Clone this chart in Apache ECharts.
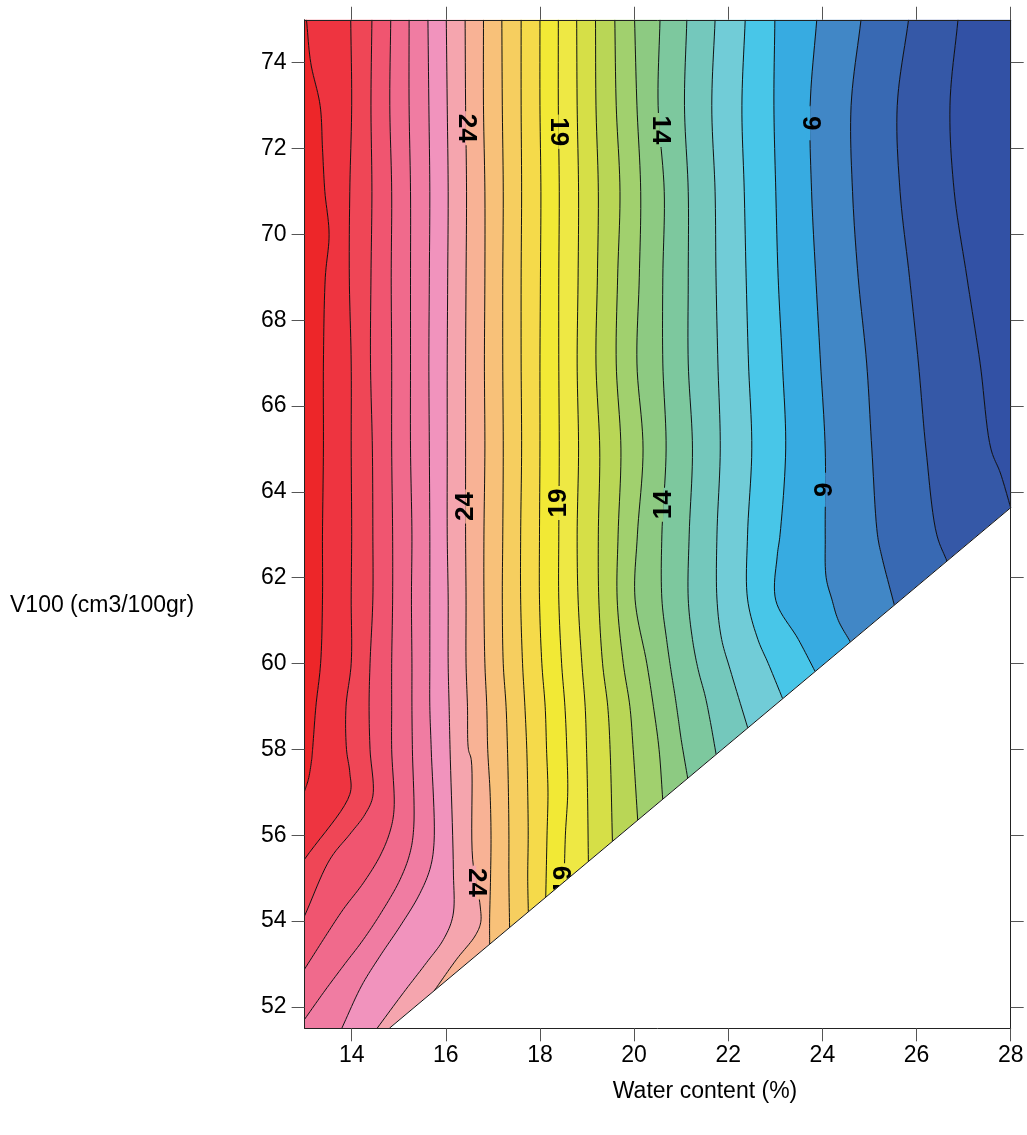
<!DOCTYPE html>
<html>
<head>
<meta charset="utf-8">
<script src="https://cdn.jsdelivr.net/npm/echarts@6/dist/echarts.min.js"></script>
<style>
  html, body { margin: 0; padding: 0; background: #ffffff; }
  #chart { width: 1027px; height: 1135px; }
</style>
</head>
<body>
<div id="chart"></div>
<script>
// Axis extents and tick labels
const xRange = [13, 28];
const yRange = [51.5, 75];
const xTicks = [14, 16, 18, 20, 22, 24, 26, 28];
const yTicks = [52, 54, 56, 58, 60, 62, 64, 66, 68, 70, 72, 74];

const xTitle = 'Water content (%)';
const yTitle = 'V100 (cm3/100gr)';

// Measured domain (clockwise on screen): top-left, top-right, right edge foot, diagonal foot, bottom-left
const domainOutline = [[13, 75], [28, 75], [28, 63.63], [14.8, 51.5], [13, 51.5]];

// Contour levels, highest on the left
const contourLevels = [31, 30, 29, 28, 27, 26, 25, 24, 23, 22, 21, 20, 19, 18, 17, 16, 15, 14, 13, 12, 11, 10, 9, 8, 7, 6];

// Each isoline traced from the top edge down to where it leaves the domain: [water content, V100]
const contourLines = [
  [[13.04,75],[13.13,74],[13.33,73],[13.38,72],[13.43,71],[13.52,70],[13.44,69],[13.40,67],[13.40,65],[13.38,63],[13.38,61.5],[13.34,60],[13.24,59],[13.17,58],[13.15,57.76],[13.08,57.3],[13.0,57.03]],
  [[13.98,75],[14.00,73],[13.96,71],[13.95,69],[13.99,67],[13.99,65],[14.00,63],[13.99,61.5],[13.99,60],[13.88,59],[13.89,58],[13.96,57.46],[13.96,56.95],[13.0,55.44]],
  [[14.43,75],[14.41,73],[14.43,71],[14.41,69],[14.40,67],[14.44,65],[14.45,63],[14.45,61.5],[14.39,60],[14.37,59],[14.39,58],[14.45,56.91],[14.28,56.48],[13.96,56.02],[13.54,55.44],[13.0,54.12]],
  [[14.83,75],[14.81,73],[14.85,71],[14.84,69],[14.85,67],[14.85,65],[14.87,63],[14.87,61.5],[14.85,60],[14.85,59],[14.85,58],[14.90,56.6],[14.81,56.07],[14.60,55.51],[14.25,54.89],[13.82,54.27],[13.40,53.57],[13.0,52.88]],
  [[15.22,75],[15.22,73],[15.25,71],[15.25,69],[15.25,67],[15.25,65],[15.28,63],[15.27,61.5],[15.28,60],[15.28,59],[15.29,58],[15.32,56.21],[15.24,55.59],[15.03,54.97],[14.67,54.27],[14.25,53.57],[13.82,52.95],[13.40,52.33],[13.0,51.71]],
  [[15.62,75],[15.64,73],[15.66,71],[15.65,69],[15.64,67],[15.65,65],[15.66,63],[15.66,61.5],[15.66,60],[15.66,59],[15.69,58],[15.75,55.83],[15.66,55.2],[15.42,54.58],[15.03,53.88],[14.60,53.18],[14.21,52.49],[13.79,51.5]],
  [[16.01,75],[16.03,73],[16.05,71],[16.04,69],[16.03,67],[16.03,65],[16.03,63],[16.05,61.5],[16.05,60],[16.07,59],[16.09,58],[16.16,55.2],[16.15,54.12],[15.95,53.57],[15.59,53.03],[15.10,52.33],[14.54,51.5]],
  [[16.41,75],[16.42,73],[16.44,71],[16.43,69],[16.42,67],[16.42,65],[16.42,63],[16.43,61.5],[16.43,60],[16.46,59],[16.48,58],[16.54,57.76],[16.57,55.44],[16.73,54.35],[16.74,53.96],[16.62,53.65],[16.23,53.11],[15.73,52.41]],
  [[16.80,75],[16.80,73],[16.83,71],[16.83,69],[16.82,67],[16.83,65],[16.81,63],[16.81,61.5],[16.83,60],[16.87,59],[16.89,58],[16.94,57],[16.96,56],[16.95,55],[16.93,54],[16.90,53.5]],
  [[17.19,75],[17.20,73],[17.22,71],[17.21,69],[17.21,67],[17.22,65],[17.21,63],[17.20,61.5],[17.22,60],[17.28,59],[17.31,58],[17.33,57],[17.34,56],[17.34,55],[17.33,53.88]],
  [[17.60,75],[17.60,73],[17.61,71],[17.60,69],[17.60,67],[17.61,65],[17.59,63],[17.59,61.5],[17.63,60],[17.68,59],[17.72,58],[17.74,57],[17.75,56],[17.74,55],[17.74,54.23]],
  [[18.00,75],[18.00,73],[18.02,71],[18.01,69],[18.00,67],[18.00,65],[17.99,63],[17.99,61.5],[18.04,60],[18.11,59],[18.14,58],[18.17,57],[18.15,56],[18.11,54.57]],
  [[18.39,75],[18.39,73],[18.41,71],[18.40,69],[18.40,67],[18.41,65],[18.40,63],[18.40,61.5],[18.46,60],[18.53,59],[18.57,58],[18.59,57],[18.54,56],[18.50,54.93]],
  [[18.78,75],[18.79,73],[18.82,71],[18.81,69],[18.79,67],[18.82,65],[18.79,63],[18.81,61.5],[18.89,60],[18.96,59],[18.99,58],[19.01,57],[19.01,55.41]],
  [[19.18,75],[19.19,73],[19.24,71],[19.22,69],[19.19,67],[19.27,65],[19.24,63],[19.25,61.5],[19.33,60],[19.44,59],[19.49,58],[19.52,55.88]],
  [[19.59,75],[19.62,73],[19.70,71],[19.65,69],[19.62,67],[19.72,65],[19.66,63],[19.64,61.5],[19.77,60],[19.91,59],[19.98,58],[20.06,56.37]],
  [[20.01,75],[20.06,73],[20.14,71],[20.11,69],[20.06,67],[20.19,65],[20.07,63],[20.02,61.5],[20.27,60],[20.41,59],[20.53,58],[20.59,56.86]],
  [[20.55,75],[20.51,73],[20.64,71],[20.61,69],[20.61,67],[20.68,65],[20.59,63],[20.59,61.5],[20.69,60.56],[20.78,59.86],[20.87,59.24],[20.94,58.7],[21.00,58.23],[21.12,57.35]],
  [[21.12,75],[21.07,73],[21.15,71],[21.15,69],[21.15,67],[21.24,65],[21.17,63],[21.15,61.5],[21.24,60.56],[21.36,59.86],[21.51,59.24],[21.61,58.7],[21.72,57.91]],
  [[21.72,75],[21.65,73],[21.72,71],[21.74,69],[21.78,67],[21.83,65],[21.76,63],[21.76,61.5],[21.86,60.56],[22.04,59.86],[22.39,58.53]],
  [[22.36,75],[22.29,73],[22.34,71],[22.38,69],[22.43,67],[22.50,65],[22.41,63],[22.41,61.5],[22.63,60.56],[22.85,60],[23.14,59.2]],
  [[22.99,75],[22.97,73],[23.01,71],[23.06,69],[23.15,67],[23.22,65],[23.10,63],[23.04,62.5],[23.01,61.47],[23.49,60.56],[23.81,59.86]],
  [[23.88,75],[23.74,73],[23.77,71],[23.86,69],[23.96,67],[24.06,65],[24.06,63],[24.08,62],[24.20,61.5],[24.34,61],[24.55,60.56]],
  [[24.82,75],[24.61,73],[24.64,71],[24.76,69],[24.94,67],[25.05,65],[25.17,63],[25.26,62.5],[25.49,61.41]],
  [[25.83,75],[25.59,73],[25.65,71],[25.85,69],[26.04,67],[26.20,65],[26.43,63],[26.62,62.42]],
  [[26.88,75],[26.71,73],[26.80,71],[27.07,69],[27.35,67],[27.58,65],[27.78,64.44],[28,63.63]]
];

// Fill colours, from the band above 31 down to the band below 6
const bandColors = [
  '#ED2629', '#EE3440', '#EF4656', '#F05570', '#F06A8C', '#F07CA2', '#F193BD',
  '#F5A5AE', '#F8B295', '#F8C179', '#F6CE5F', '#F5DA4A', '#F2E935', '#EEE844',
  '#D6DF47', '#B9D656', '#A1D06E', '#8DCA82', '#7DC89E', '#74C8BC', '#71CCD7',
  '#48C6E8', '#37ABE1', '#4187C6', '#3869B3', '#3558A7', '#3251A5'
];

// Inline isoline labels: level, height along the line, reading direction
const labelLevels = [24, 19, 14, 9, 24, 19, 14, 9, 24, 19];
const labelHeights = [72.47, 72.39, 72.43, 72.59, 63.66, 63.74, 63.70, 64.05, 54.90, 54.95];
const labelTurns = ['cw', 'cw', 'cw', 'cw', 'ccw', 'ccw', 'ccw', 'ccw', 'cw', 'ccw'];

const FONT = '"Liberation Sans", Arial, Helvetica, sans-serif';

// ---- geometry helpers (pixel space) ----
function outlineGeometry(api) {
  const pts = domainOutline.map(p => api.coord(p));
  const n = pts.length;
  const cum = [0];
  for (let i = 0; i < n; i++) {
    const a = pts[i], b = pts[(i + 1) % n];
    cum.push(cum[i] + Math.hypot(b[0] - a[0], b[1] - a[1]));
  }
  return { pts, cum, total: cum[n] };
}

function snapToOutline(q, g) {
  let best = Infinity, res = null;
  const n = g.pts.length;
  for (let i = 0; i < n; i++) {
    const a = g.pts[i], b = g.pts[(i + 1) % n];
    const dx = b[0] - a[0], dy = b[1] - a[1];
    const len2 = dx * dx + dy * dy;
    let t = ((q[0] - a[0]) * dx + (q[1] - a[1]) * dy) / len2;
    t = Math.max(0, Math.min(1, t));
    const p = [a[0] + t * dx, a[1] + t * dy];
    const d = Math.hypot(q[0] - p[0], q[1] - p[1]);
    if (d < best) { best = d; res = { p, s: g.cum[i] + t * Math.sqrt(len2) }; }
  }
  return res;
}

// Centripetal Catmull-Rom through the traced vertices, so the drawn isolines are smooth
function smoothPath(pts, steps) {
  if (pts.length < 3) return pts.slice();
  const ext = [
    [2 * pts[0][0] - pts[1][0], 2 * pts[0][1] - pts[1][1]],
    ...pts,
    [2 * pts[pts.length - 1][0] - pts[pts.length - 2][0], 2 * pts[pts.length - 1][1] - pts[pts.length - 2][1]]
  ];
  const knot = (a, b) => Math.pow(Math.max(Math.hypot(b[0] - a[0], b[1] - a[1]), 1e-3), 0.5);
  const mix = (a, b, wa, wb) => [a[0] * wa + b[0] * wb, a[1] * wa + b[1] * wb];
  const out = [pts[0]];
  for (let i = 1; i < ext.length - 2; i++) {
    const p0 = ext[i - 1], p1 = ext[i], p2 = ext[i + 1], p3 = ext[i + 2];
    const t0 = 0, t1 = t0 + knot(p0, p1), t2 = t1 + knot(p1, p2), t3 = t2 + knot(p2, p3);
    for (let s = 1; s <= steps; s++) {
      const t = t1 + (t2 - t1) * s / steps;
      const A1 = mix(p0, p1, (t1 - t) / (t1 - t0), (t - t0) / (t1 - t0));
      const A2 = mix(p1, p2, (t2 - t) / (t2 - t1), (t - t1) / (t2 - t1));
      const A3 = mix(p2, p3, (t3 - t) / (t3 - t2), (t - t2) / (t3 - t2));
      const B1 = mix(A1, A2, (t2 - t) / (t2 - t0), (t - t0) / (t2 - t0));
      const B2 = mix(A2, A3, (t3 - t) / (t3 - t1), (t - t1) / (t3 - t1));
      out.push(mix(B1, B2, (t2 - t) / (t2 - t1), (t - t1) / (t2 - t1)));
    }
  }
  return out;
}

function isolinePx(api, g, idx) {
  const pts = contourLines[idx].map(p => api.coord(p));
  const start = snapToOutline(pts[0], g);
  const end = snapToOutline(pts[pts.length - 1], g);
  pts[0] = start.p;
  pts[pts.length - 1] = end.p;
  return { pts: smoothPath(pts, 10), s: end.s };
}

function xOnLine(line, y) {
  for (let i = 0; i < line.length - 1; i++) {
    const a = line[i], b = line[i + 1];
    if ((y <= a[1] && y >= b[1]) || (y >= a[1] && y <= b[1])) {
      const t = (a[1] === b[1]) ? 0 : (y - a[1]) / (b[1] - a[1]);
      return [a[0] + t * (b[0] - a[0]), y];
    }
  }
  return line[line.length - 1].slice();
}

// ---- series renderers ----
function renderBand(params, api) {
  const g = outlineGeometry(api);
  const i = params.dataIndex;
  const nL = contourLines.length;
  const left = i === 0 ? { pts: [g.pts[0]], s: g.total } : isolinePx(api, g, i - 1);
  const right = i === nL ? { pts: [g.pts[1]], s: g.cum[1] } : isolinePx(api, g, i);
  const poly = right.pts.slice();
  for (let k = 1; k < g.pts.length; k++) {
    if (g.cum[k] > right.s + 1e-6 && g.cum[k] < left.s - 1e-6) poly.push(g.pts[k]);
  }
  for (let k = left.pts.length - 1; k >= 0; k--) poly.push(left.pts[k]);
  return {
    type: 'polygon',
    shape: { points: poly },
    style: { fill: bandColors[i], stroke: bandColors[i], lineWidth: 0.6 }
  };
}

function renderIsoline(params, api) {
  const g = outlineGeometry(api);
  const line = isolinePx(api, g, params.dataIndex);
  return {
    type: 'polyline',
    shape: { points: line.pts },
    style: { stroke: '#111111', lineWidth: 1, fill: null }
  };
}

function renderLabel(params, api) {
  const k = params.dataIndex;
  const level = labelLevels[k];
  const j = contourLevels.indexOf(level);
  const c = api.coord(xOnLine(contourLines[j], labelHeights[k]));
  const text = String(level);
  const gap = 34;
  return {
    type: 'group',
    children: [
      { type: 'rect', shape: { x: c[0] - 3.5, y: c[1] - gap / 2, width: 3.5, height: gap },
        style: { fill: bandColors[j] } },
      { type: 'rect', shape: { x: c[0], y: c[1] - gap / 2, width: 3.5, height: gap },
        style: { fill: bandColors[j + 1] } },
      { type: 'text', x: c[0], y: c[1],
        rotation: labelTurns[k] === 'cw' ? -Math.PI / 2 : Math.PI / 2,
        style: { text, x: 0, y: 0, align: 'center', verticalAlign: 'middle',
                 font: 'bold 26px ' + FONT, fill: '#000000' } }
    ]
  };
}

function renderMask(params, api) {
  const foot = api.coord(domainOutline[3]);
  const edge = api.coord(domainOutline[2]);
  const corner = api.coord([xRange[1], yRange[0]]);
  return {
    type: 'group',
    children: [
      { type: 'polygon', shape: { points: [edge, foot, corner] },
        style: { fill: '#ffffff', stroke: '#ffffff', lineWidth: 0.5 } },
      { type: 'line', shape: { x1: edge[0], y1: edge[1], x2: foot[0], y2: foot[1] },
        style: { stroke: '#111111', lineWidth: 1 } }
    ]
  };
}

const anchor = () => [xRange[0], yRange[1]];

const axisLineStyle = { color: '#222222', width: 1 };
const tickStyle = { color: '#555555', width: 1 };

const option = {
  animation: false,
  backgroundColor: '#ffffff',
  grid: { left: 304.6, right: 16.3, top: 19.75, bottom: 106.7, containLabel: false },
  xAxis: [
    { type: 'value', min: xRange[0], max: xRange[1], position: 'bottom', z: 10,
      axisLine: { show: true, onZero: false, lineStyle: axisLineStyle },
      axisTick: { show: true, length: 13, customValues: xTicks, lineStyle: tickStyle },
      axisLabel: { show: true, customValues: xTicks, margin: 16, color: '#000000',
                   fontSize: 23, fontFamily: FONT },
      splitLine: { show: false } },
    { type: 'value', min: xRange[0], max: xRange[1], position: 'top', z: 10,
      axisLine: { show: true, onZero: false, lineStyle: axisLineStyle },
      axisTick: { show: true, length: 13, customValues: xTicks, lineStyle: tickStyle },
      axisLabel: { show: false },
      splitLine: { show: false } }
  ],
  yAxis: [
    { type: 'value', min: yRange[0], max: yRange[1], position: 'left', z: 10,
      axisLine: { show: true, onZero: false, lineStyle: axisLineStyle },
      axisTick: { show: true, length: 13, customValues: yTicks, lineStyle: tickStyle },
      axisLabel: { show: true, customValues: yTicks, margin: 18, color: '#000000',
                   fontSize: 23, fontFamily: FONT },
      splitLine: { show: false } },
    { type: 'value', min: yRange[0], max: yRange[1], position: 'right', z: 10,
      axisLine: { show: true, onZero: false, lineStyle: axisLineStyle },
      axisTick: { show: true, length: 13, customValues: yTicks, lineStyle: tickStyle },
      axisLabel: { show: false },
      splitLine: { show: false } }
  ],
  graphic: [
    { type: 'text', x: 10, y: 606, z: 20,
      style: { text: yTitle, font: '23px ' + FONT, fill: '#000000', align: 'left', verticalAlign: 'middle' } },
    { type: 'text', x: 705, y: 1092, z: 20,
      style: { text: xTitle, font: '23px ' + FONT, fill: '#000000', align: 'center', verticalAlign: 'middle' } }
  ],
  series: [
    { type: 'custom', name: 'bands', coordinateSystem: 'cartesian2d', clip: true, z: 1,
      silent: true, renderItem: renderBand, data: bandColors.map(anchor) },
    { type: 'custom', name: 'isolines', coordinateSystem: 'cartesian2d', clip: true, z: 2,
      silent: true, renderItem: renderIsoline, data: contourLines.map(anchor) },
    { type: 'custom', name: 'labels', coordinateSystem: 'cartesian2d', clip: true, z: 3,
      silent: true, renderItem: renderLabel, data: labelLevels.map(anchor) },
    { type: 'custom', name: 'outside', coordinateSystem: 'cartesian2d', clip: true, z: 4,
      silent: true, renderItem: renderMask, data: [anchor()] }
  ]
};

const chart = echarts.init(document.getElementById('chart'), null, { renderer: 'canvas' });
chart.setOption(option);
</script>
</body>
</html>
